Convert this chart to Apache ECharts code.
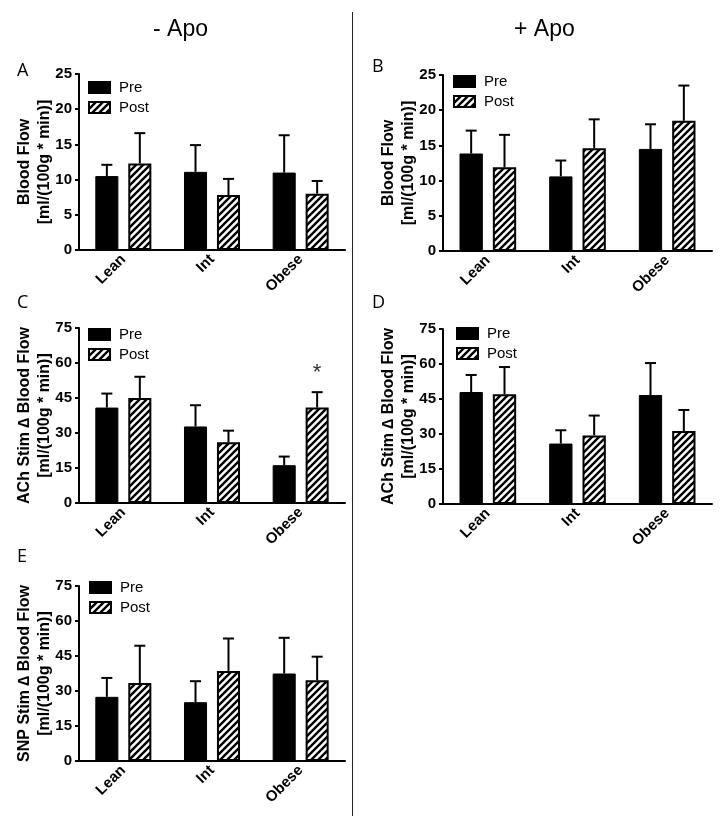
<!DOCTYPE html>
<html>
<head>
<meta charset="utf-8">
<script src="https://cdn.jsdelivr.net/npm/echarts@6/dist/echarts.min.js"></script>
<style>
html,body{margin:0;padding:0;background:#fff;}
#chart{width:728px;height:827px;}
</style>
</head>
<body>
<div id="chart"></div>
<script>
// ---------------- data ----------------
const categories = ['Lean', 'Int', 'Obese'];
const seriesNames = ['Pre', 'Post'];

// Panel A: -Apo, Blood Flow
const aPre = [10.5, 11.1, 11.0];
const aPreErr = [1.6, 3.8, 5.3];
const aPost = [12.3, 7.8, 8.0];
const aPostErr = [4.3, 2.3, 1.8];

// Panel B: +Apo, Blood Flow
const bPre = [13.85, 10.6, 14.5];
const bPreErr = [3.25, 2.25, 3.5];
const bPost = [11.9, 14.6, 18.5];
const bPostErr = [4.6, 4.1, 5.0];

// Panel C: -Apo, ACh Stim
const cPre = [40.9, 32.8, 16.2];
const cPreErr = [6.0, 9.1, 3.7];
const cPost = [45.0, 26.0, 40.9];
const cPostErr = [9.1, 5.0, 6.6];
const cPostMarks = ['', '', '*'];

// Panel D: +Apo, ACh Stim
const dPre = [48.0, 25.9, 46.7];
const dPreErr = [7.3, 5.7, 13.7];
const dPost = [47.0, 29.4, 31.3];
const dPostErr = [11.7, 8.5, 9.0];

// Panel E: -Apo, SNP Stim
const ePre = [27.5, 25.2, 37.5];
const ePreErr = [8.1, 9.0, 15.3];
const ePost = [33.4, 38.6, 34.6];
const ePostErr = [16.0, 13.9, 10.1];

const flowTicks = {max: 25, interval: 5};
const stimTicks = {max: 75, interval: 15};

const yNameFlow = 'Blood Flow\n[ml/(100g * min)]';
const yNameACh = 'ACh Stim \u2206 Blood Flow\n[ml/(100g * min)]';
const yNameSNP = 'SNP Stim \u2206 Blood Flow\n[ml/(100g * min)]';

const headers = ['- Apo', '+ Apo'];

// ---------------- layout ----------------
const FONT = '"Liberation Sans", Arial, Helvetica, sans-serif';
const BAR_FRAC = 0.26;
const GAP_FRAC = 0.43;

const panels = [
  {letter: 'A', pre: aPre, preErr: aPreErr, post: aPost, postErr: aPostErr, ticks: flowTicks, yName: yNameFlow,
   grid: {left: 79, top: 74, width: 266, height: 176}, legend: {left: 88, top: 80}, letterPos: [17, 72]},
  {letter: 'B', pre: bPre, preErr: bPreErr, post: bPost, postErr: bPostErr, ticks: flowTicks, yName: yNameFlow,
   grid: {left: 443, top: 75, width: 269, height: 176}, legend: {left: 453, top: 74}, letterPos: [372, 68]},
  {letter: 'C', pre: cPre, preErr: cPreErr, post: cPost, postErr: cPostErr, marks: cPostMarks, ticks: stimTicks, yName: yNameACh,
   grid: {left: 79, top: 328, width: 266, height: 175}, legend: {left: 88, top: 327}, letterPos: [17, 304]},
  {letter: 'D', pre: dPre, preErr: dPreErr, post: dPost, postErr: dPostErr, ticks: stimTicks, yName: yNameACh,
   grid: {left: 443, top: 329, width: 269, height: 175}, legend: {left: 456, top: 326}, letterPos: [372, 304]},
  {letter: 'E', pre: ePre, preErr: ePreErr, post: ePost, postErr: ePostErr, ticks: stimTicks, yName: yNameSNP,
   grid: {left: 79, top: 586, width: 266, height: 175}, legend: {left: 89, top: 580}, letterPos: [17, 558]}
];

// hatch pattern
function makeHatch() {
  const s = 7;
  const c = document.createElement('canvas');
  c.width = s; c.height = s;
  const ctx = c.getContext('2d');
  ctx.fillStyle = '#fff';
  ctx.fillRect(0, 0, s, s);
  ctx.strokeStyle = '#000';
  ctx.lineWidth = 2.4;
  ctx.beginPath();
  ctx.moveTo(-1, s + 1); ctx.lineTo(s + 1, -1);
  ctx.moveTo(-s / 2 - 1, s / 2 + 1); ctx.lineTo(s / 2 + 1, -s / 2 - 1);
  ctx.moveTo(s / 2 - 1, 1.5 * s + 1); ctx.lineTo(1.5 * s + 1, s / 2 - 1);
  ctx.stroke();
  return c;
}
const hatch = {image: makeHatch(), repeat: 'repeat'};

function errRender(side, marks) {
  return function (params, api) {
    const cat = api.value(0);
    const mean = api.value(1);
    const top = api.value(2);
    const band = api.size([1, 0])[0];
    const bw = band * BAR_FRAC;
    const off = side * (bw + bw * GAP_FRAC) / 2;
    const p0 = api.coord([cat, mean]);
    const p1 = api.coord([cat, top]);
    const x = p0[0] + off;
    const children = [
      {type: 'line', shape: {x1: x, y1: p0[1], x2: x, y2: p1[1]}, style: {stroke: '#000', lineWidth: 2}},
      {type: 'line', shape: {x1: x - 5.5, y1: p1[1], x2: x + 5.5, y2: p1[1]}, style: {stroke: '#000', lineWidth: 2}}
    ];
    if (marks && marks[params.dataIndex]) {
      children.push({type: 'text', style: {text: marks[params.dataIndex], x: x, y: p1[1] - 8,
        align: 'center', verticalAlign: 'bottom', font: '22px ' + FONT, fill: '#333'}});
    }
    return {type: 'group', children: children};
  };
}

const option = {
  backgroundColor: '#fff',
  animation: false,
  grid: [], xAxis: [], yAxis: [], series: [], legend: [],
  graphic: [
    {type: 'line', shape: {x1: 352.5, y1: 12, x2: 352.5, y2: 816}, style: {stroke: '#222', lineWidth: 1}},
    {type: 'text', left: 153, top: 18, style: {text: headers[0], font: '23px ' + FONT, fill: '#000'}},
    {type: 'text', left: 514, top: 18, style: {text: headers[1], font: '23px ' + FONT, fill: '#000'}}
  ]
};

panels.forEach((p, i) => {
  option.grid.push(Object.assign({}, p.grid));
  option.xAxis.push({
    type: 'category', gridIndex: i, data: categories,
    axisLine: {lineStyle: {color: '#000', width: 2}},
    axisTick: {alignWithLabel: true, length: 4, lineStyle: {color: '#000', width: 2}},
    axisLabel: {rotate: 45, margin: 7, color: '#000', fontWeight: 'bold', fontSize: 15, fontFamily: FONT},
    splitLine: {show: false}
  });
  option.yAxis.push({
    type: 'value', gridIndex: i, min: 0, max: p.ticks.max, interval: p.ticks.interval,
    name: p.yName, nameLocation: 'middle', nameRotate: 90, nameGap: 24, nameMoveOverlap: false,
    nameTextStyle: {color: '#000', fontWeight: 'bold', fontSize: 16, fontFamily: FONT, lineHeight: 20},
    axisLine: {show: true, lineStyle: {color: '#000', width: 2}},
    axisTick: {show: true, length: 4, lineStyle: {color: '#000', width: 2}},
    axisLabel: {margin: 7, color: '#000', fontWeight: 'bold', fontSize: 15, fontFamily: FONT},
    splitLine: {show: false}
  });
  option.series.push({
    name: seriesNames[0], type: 'bar', xAxisIndex: i, yAxisIndex: i,
    data: p.pre, barWidth: (BAR_FRAC * 100) + '%', barGap: (GAP_FRAC * 100) + '%',
    itemStyle: {color: '#000', borderColor: '#000', borderWidth: 1}
  });
  option.series.push({
    name: seriesNames[1], type: 'bar', xAxisIndex: i, yAxisIndex: i,
    data: p.post, barWidth: (BAR_FRAC * 100) + '%', barGap: (GAP_FRAC * 100) + '%',
    itemStyle: {color: hatch, borderColor: '#000', borderWidth: 2}
  });
  option.series.push({
    name: 'err' + p.letter + 'Pre', type: 'custom', xAxisIndex: i, yAxisIndex: i, z: 3,
    renderItem: errRender(-1, null), encode: {x: 0, y: [1, 2]},
    data: categories.map((c, k) => [k, p.pre[k], p.pre[k] + p.preErr[k]])
  });
  option.series.push({
    name: 'err' + p.letter + 'Post', type: 'custom', xAxisIndex: i, yAxisIndex: i, z: 3,
    renderItem: errRender(1, p.marks), encode: {x: 0, y: [1, 2]},
    data: categories.map((c, k) => [k, p.post[k], p.post[k] + p.postErr[k]])
  });
  option.legend.push({
    data: seriesNames, orient: 'vertical', left: p.legend.left, top: p.legend.top,
    padding: 0, icon: 'rect', itemWidth: 21, itemHeight: 11, itemGap: 5, selectedMode: false,
    textStyle: {color: '#000', fontSize: 15, fontFamily: FONT, padding: [0, 0, 0, 4]}
  });
  option.graphic.push({type: 'text', left: p.letterPos[0], top: p.letterPos[1] - 10,
    style: {text: p.letter, font: '18px "Open Sans", "DejaVu Sans", sans-serif', fill: '#000'}});
});

const chart = echarts.init(document.getElementById('chart'), null, {renderer: 'canvas'});
chart.setOption(option);
</script>
</body>
</html>
